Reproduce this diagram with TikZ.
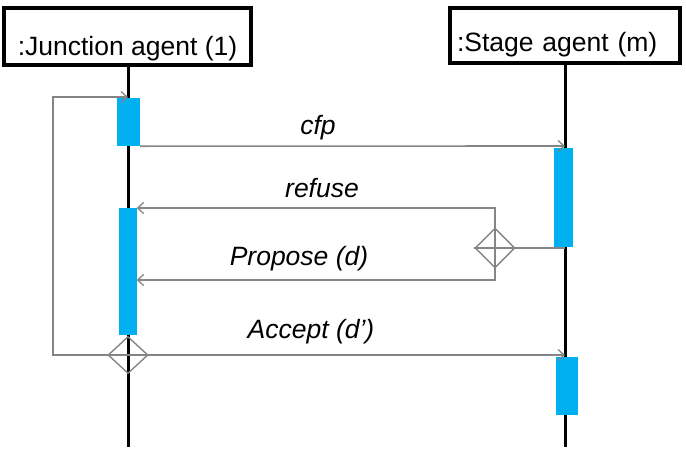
\documentclass[tikz,border=0pt]{standalone}
\usepackage{fontspec}
\setmainfont{Liberation Sans}
\usetikzlibrary{arrows.meta,shapes.geometric}
\definecolor{actblue}{HTML}{00B0F0}
\definecolor{msggray}{HTML}{858585}
\begin{document}
\begin{tikzpicture}[x=1pt,y=-1pt,
  agent/.style={draw=black,line width=3.5pt,rectangle,inner sep=0pt,
    font=\fontsize{26.5}{30}\selectfont},
  lifeline/.style={draw=black,line width=3pt},
  act/.style={fill=actblue,draw=none,rectangle,inner sep=0pt},
  msg/.style={draw=msggray,line width=1.6pt},
  msgarrow/.style={msg,-{Straight Barb[length=6pt,width=11pt,line width=1.3pt]}},
  fork/.style={draw=msggray,line width=1.4pt,diamond,shape aspect=1,inner sep=0pt},
  lbl/.style={font=\fontsize{26.5}{30}\selectfont\itshape,inner sep=0pt}]
\useasboundingbox (0,0) rectangle (686,453);

% agents
\node[agent,minimum width=247pt,minimum height=57pt,text height=37pt,text depth=0pt]
  (J) at (127.5,36.5) {:Junction agent (1)};
\node[agent,minimum width=230pt,minimum height=55pt,text height=31pt,text depth=0pt,
  text width=216pt,align=left]
  (S) at (565,35.5) {:Stage agent (m)};

% lifeline ends
\coordinate (Jend) at (128,447);
\coordinate (Send) at (565,447);
\draw[lifeline] (J.south -| Jend) -- (Jend);
\draw[lifeline] (S.south -| Send) -- (Send);

% activations
\node[act,minimum width=23pt,minimum height=48pt] (a1) at (128.5,122) {};
\node[act,minimum width=18pt,minimum height=127pt] (a2) at (127.5,271.5) {};
\node[act,minimum width=19pt,minimum height=99pt] (s1) at (563.5,197.5) {};
\node[act,minimum width=22pt,minimum height=58pt] (s2) at (567,386) {};

% forks (diamonds)
\node[fork,minimum width=40pt,minimum height=40pt] (r) at (495,248) {};
\node[fork,minimum width=40pt,minimum height=37pt] (k) at (128,355) {};

% coordinates for message ends
\coordinate (cfpend) at (565,146);
\coordinate (reftop) at (495,208);
\coordinate (propbot) at (495,280);
\coordinate (loopbl) at (53,355);
\coordinate (looptl) at (53,97);
\coordinate (looptip) at (128,97);
\coordinate (acctip) at (565,355);

% cfp
\draw[msgarrow] (a1.south east) -- (cfpend);
\node[lbl] (lcfp) at (318,128) {cfp};

% right fork
\draw[msg] (r.north) -- (r.south);
\draw[msg] (r.west) -- (r.east);
\draw[msg] (r.east) -- (r.east -| Send);
\draw[msgarrow] (r.north) -- (reftop) -- (a2.east |- reftop);
\draw[msgarrow] (r.south) -- (propbot) -- (a2.east |- propbot);
\node[lbl] (lref) at (322,188) {refuse};
\node[lbl] (lprop) at (299,259) {Propose (d)};

% loop and accept
\draw[msg] (k.west) -- (k.east);
\draw[msgarrow] (k.west) -- (loopbl) -- (looptl) -- (looptip);
\draw[msgarrow] (k.east) -- (acctip);
\node[lbl] (lacc) at (311,332) {Accept (d')};
\end{tikzpicture}
\end{document}
